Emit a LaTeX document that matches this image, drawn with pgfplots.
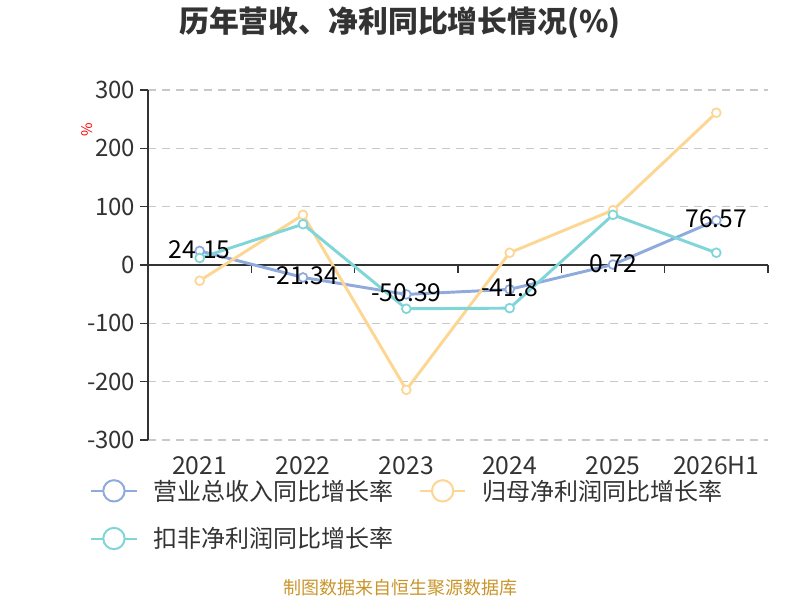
\documentclass[border=0pt]{standalone}
\usepackage{pgfplots}
\pgfplotsset{compat=1.18}
\usepackage{fontspec}
\setmainfont{Noto Sans CJK SC}
\definecolor{cblue}{HTML}{8FAADC}
\definecolor{corange}{HTML}{FCD692}
\definecolor{cteal}{HTML}{80D5D8}
\definecolor{ctext}{HTML}{333333}
\definecolor{cgrid}{HTML}{C8C8C8}
\definecolor{cfoot}{HTML}{C9952B}
\begin{document}
\begin{tikzpicture}
\path[use as bounding box] (0,0) rectangle (600pt,450pt);
\node[font=\bfseries\fontsize{22.4}{26}\selectfont, text=ctext] at (300pt,433pt) {历年营收、净利同比增长情况(\%)};
\node[font=\fontsize{13.5}{16}\selectfont, text=cfoot] at (300pt,9pt) {制图数据来自恒生聚源数据库};
\begin{axis}[
  at={(111pt,120pt)}, anchor=south west,
  scale only axis, width=465pt, height=262.5pt,
  xmin=-0.5, xmax=5.5, ymin=-300, ymax=300,
  axis x line=bottom, axis y line=left,
  x axis line style={draw=none},
  y axis line style={-, draw=ctext, line width=1.1pt},
  xtick={0,1,2,3,4,5},
  xticklabels={2021,2022,2023,2024,2025,2026H1},
  x tick style={draw=none},
  ytick={-300,-200,-100,0,100,200,300},
  y tick style={draw=ctext, line width=1.1pt},
  tick align=outside, major tick length=6pt,
  ymajorgrids,
  grid style={cgrid, line width=0.9pt, dash pattern=on 6pt off 4.5pt},
  tick label style={font=\fontsize{18.5}{21}\selectfont, text=ctext},
  yticklabel style={font=\fontsize{18}{21}\selectfont},
  /pgf/number format/assume math mode=true,
  xticklabel style={yshift=-3pt},
  legend columns=2,
  legend cell align=left,
  legend style={at={(-0.0935,-0.105)}, anchor=north west, draw=none, fill=none,
    font=\fontsize{18}{21}\selectfont, text=ctext, inner sep=0pt,
    row sep=15pt,
    /tikz/every odd column/.append style={column sep=10pt},
    /tikz/every even column/.append style={column sep=17pt}},
  legend image code/.code={
    \draw[#1, line width=1.5pt, mark=none] (0pt,0pt) -- (34pt,0pt);
    \draw[#1, line width=1.5pt, fill=white, mark=none] (17pt,0pt) circle (8pt);},
  every axis plot/.append style={line width=2.2pt, mark=*, mark size=3.3pt,
    mark options={fill=white, line width=1.3pt}},
  clip=false,
]
\draw[ctext, line width=1.1pt] (axis cs:-0.5,0) -- (axis cs:5.5,0);
\draw[ctext, line width=1.1pt] (axis cs:0.5,0) -- ([yshift=-6pt]axis cs:0.5,0);
\draw[ctext, line width=1.1pt] (axis cs:1.5,0) -- ([yshift=-6pt]axis cs:1.5,0);
\draw[ctext, line width=1.1pt] (axis cs:2.5,0) -- ([yshift=-6pt]axis cs:2.5,0);
\draw[ctext, line width=1.1pt] (axis cs:3.5,0) -- ([yshift=-6pt]axis cs:3.5,0);
\draw[ctext, line width=1.1pt] (axis cs:4.5,0) -- ([yshift=-6pt]axis cs:4.5,0);
\draw[ctext, line width=1.1pt] (axis cs:5.5,0) -- ([yshift=-6pt]axis cs:5.5,0);
\addplot[color=cblue, nodes near coords, point meta=explicit symbolic,
  nodes near coords style={anchor=center, text=black, font=\fontsize{18.5}{21}\selectfont, yshift=1pt}]
  coordinates {(0,24.15)[24.15] (1,-21.34)[-21.34] (2,-50.39)[-50.39] (3,-41.8)[-41.8] (4,0.72)[0.72] (5,76.57)[76.57]};
\addlegendentry{营业总收入同比增长率}
\addplot[color=corange] coordinates {(0,-27) (1,86) (2,-214) (3,21) (4,94) (5,261)};
\addlegendentry{归母净利润同比增长率}
\addplot[color=cteal] coordinates {(0,12) (1,70) (2,-75) (3,-74) (4,86) (5,21)};
\addlegendentry{扣非净利润同比增长率}
\node[rotate=90, text=red, font=\fontsize{11}{13}\selectfont] at (rel axis cs:-0.098,0.886) {\%};
\end{axis}
\end{tikzpicture}
\end{document}
